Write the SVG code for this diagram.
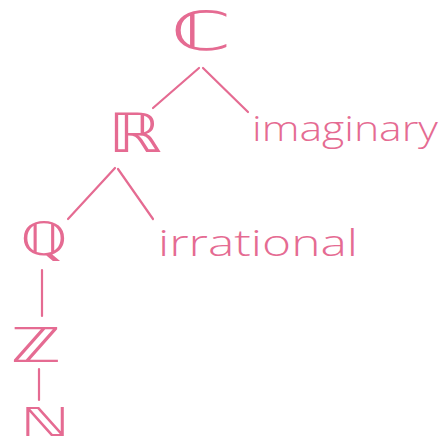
<svg xmlns="http://www.w3.org/2000/svg" width="448" height="446" viewBox="0 0 448 446">
<style>
.sym{font-family:"DejaVu Sans",sans-serif;fill:#e56b92;}
.word{font-family:"Open Sans","Liberation Sans",sans-serif;font-weight:300;fill:#e56b92;}
.c{stroke:#e56b92;stroke-width:2.2;stroke-linecap:round;fill:none;}
</style>
<rect width="448" height="446" fill="#ffffff"/>
<g id="connectors">
<line class="c" x1="199" y1="68" x2="153" y2="108"/>
<line class="c" x1="203" y1="68" x2="248" y2="112"/>
<line class="c" x1="115" y1="168" x2="68" y2="219"/>
<line class="c" x1="118" y1="169" x2="153" y2="219"/>
<line class="c" x1="42" y1="270" x2="42" y2="316"/>
<line class="c" x1="39" y1="369" x2="39" y2="400"/>
</g>
<g id="node-C"><text class="sym" transform="translate(201,50) scale(1.6,1)" font-size="54" text-anchor="middle">ℂ</text></g>
<g id="node-R"><text class="sym" transform="translate(135,152) scale(1.25,1)" font-size="54" text-anchor="middle">ℝ</text></g>
<g id="node-imaginary"><text class="word" x="252" y="141" font-size="34" textLength="186" lengthAdjust="spacingAndGlyphs">imaginary</text></g>
<g id="node-Q"><text class="sym" transform="translate(44,255) scale(1.3,1)" font-size="46" text-anchor="middle">ℚ</text></g>
<g id="node-irrational"><text class="word" x="158" y="256" font-size="36" textLength="200" lengthAdjust="spacingAndGlyphs">irrational</text></g>
<g id="node-Z"><text class="sym" transform="translate(36,362) scale(1.4,1)" font-size="48" text-anchor="middle">ℤ</text></g>
<g id="node-N"><text class="sym" transform="translate(45,436) scale(1.55,1)" font-size="40" text-anchor="middle">ℕ</text></g>
</svg>
